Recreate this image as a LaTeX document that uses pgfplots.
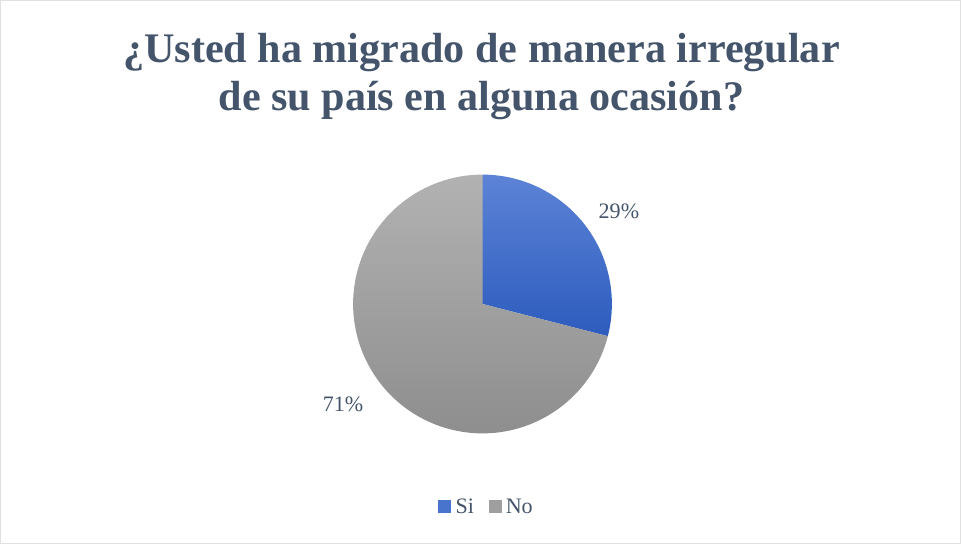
\documentclass[border=0pt]{standalone}
\usepackage{fontspec}
\setmainfont{Liberation Serif}
\usepackage{pgfplots}
\usepackage{pgfplotstable}
\pgfplotsset{compat=1.18}
\definecolor{titlecol}{HTML}{44546A}
\definecolor{sitop}{HTML}{5C83D6}
\definecolor{sibot}{HTML}{2D5CBE}
\definecolor{notop}{HTML}{B2B2B2}
\definecolor{nobot}{HTML}{8C8C8C}

\pgfplotstableread{
label value
Si 29
No 71
}\piedata

\begin{document}
\begin{tikzpicture}
\pgfplotstablegetelem{0}{value}\of\piedata \let\vsi\pgfplotsretval
\pgfplotstablegetelem{1}{value}\of\piedata \let\vno\pgfplotsretval
\pgfmathsetmacro{\aend}{90-3.6*\vsi}
\begin{axis}[
  width=961pt, height=544pt, scale only axis,
  xmin=0, xmax=961, ymin=0, ymax=544,
  hide axis, clip=false,
]
% frame
\draw[color=black!12, line width=1.2pt] (axis cs:1.5,1.5) rectangle (axis cs:958.5,542.5);
% title
\node[font=\fontsize{42}{48}\selectfont\bfseries, text=titlecol, align=center, anchor=center]
  at (axis cs:481,467) {¿Usted ha migrado de manera irregular\\de su país en alguna ocasión?};
% slices
\shade[top color=sitop, bottom color=sibot] (axis cs:482,240) -- ++(90:129pt) arc[start angle=90, end angle=\aend, radius=129pt] -- cycle;
\shade[top color=notop, bottom color=nobot] (axis cs:482,240) -- ++(\aend:129pt) arc[start angle=\aend, end angle=-270, radius=129pt] -- cycle;
% data labels
\node[font=\fontsize{22}{24}\selectfont, text=titlecol] at (axis cs:618,332) {\vsi\%};
\node[font=\fontsize{22}{24}\selectfont, text=titlecol] at (axis cs:343,140) {\vno\%};
% legend
\fill[sitop!60!sibot] (axis cs:438,32) rectangle (axis cs:451,45);
\node[font=\fontsize{22}{24}\selectfont, text=titlecol, anchor=west, inner sep=0pt] at (axis cs:455,38.5) {Si};
\fill[notop!50!nobot] (axis cs:488,32) rectangle (axis cs:501,45);
\node[font=\fontsize{22}{24}\selectfont, text=titlecol, anchor=west, inner sep=0pt] at (axis cs:505,38.5) {No};
\end{axis}
\end{tikzpicture}
\end{document}
